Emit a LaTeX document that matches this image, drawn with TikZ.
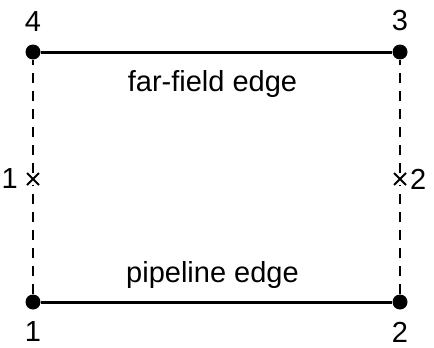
\documentclass[tikz,border=0pt]{standalone}
\usepackage{fontspec}
\setmainfont{Liberation Sans}
\usetikzlibrary{positioning,shapes.misc}

\begin{document}
\begin{tikzpicture}[
      x=1pt, y=-1pt,
      font=\fontsize{29}{32}\selectfont,
      corner/.style={circle, fill=black, inner sep=0pt, minimum size=15pt},
      midpt/.style={cross out, draw, line width=2pt, inner sep=0pt, minimum size=10pt},
      edge/.style={line width=3pt},
      side/.style={line width=2.2pt, dash pattern=on 10pt off 8pt},
      num/.style={inner sep=0pt}
    ]
      \useasboundingbox (0,0) rectangle (434,348);
      \node[corner] (c1) at (33,302) {};
      \node[corner] (c2) at (400,302) {};
      \node[corner] (c3) at (400,52) {};
      \node[corner] (c4) at (33,52) {};
      \node[midpt] (m1) at (33,179) {};
      \node[midpt] (m2) at (400,179) {};

      \node[num, below=12pt of c1] {1};
      \node[num, below=12pt of c2] {2};
      \node[num, above=13pt of c3] {3};
      \node[num, above=13pt of c4] {4};
      \node[num, left=9pt of m1] {1};
      \node[num, right=4pt of m2] {2};

      \draw[edge] (c1) -- node[above=9pt, xshift=-4pt]{pipeline edge} (c2);
      \draw[edge] (c4) -- node[below=14pt, xshift=-4pt]{far-field edge} (c3);
      \draw[side] (c1) -- (m1) -- (c4);
      \draw[side] (c2) -- (m2) -- (c3);
    \end{tikzpicture}
\end{document}
